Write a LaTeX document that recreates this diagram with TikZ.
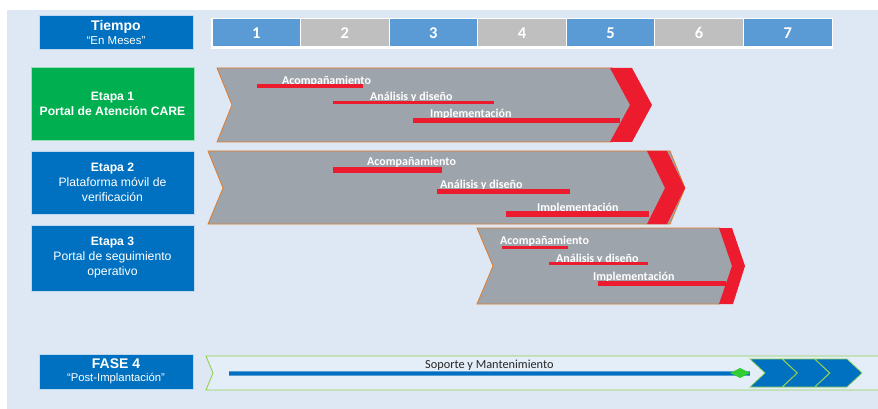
\documentclass[tikz,border=0pt]{standalone}
\usepackage{fontspec}
\setmainfont{Liberation Sans}
\newfontfamily\calib{Carlito}
\definecolor{bg}{HTML}{DEE8F4}
\definecolor{cblue}{HTML}{5B9BD5}
\definecolor{cgray}{HTML}{BFBFBF}
\definecolor{dblue}{HTML}{0070C0}
\definecolor{egreen}{HTML}{00B050}
\definecolor{chgray}{HTML}{9EA4AC}
\definecolor{chorange}{HTML}{E07B2A}
\definecolor{cred}{HTML}{EC1C2E}
\definecolor{lgreen}{HTML}{92D050}
\definecolor{dgreen}{HTML}{33CC33}
\definecolor{banfill}{HTML}{E4EEF8}
\definecolor{txtdark}{HTML}{262626}
\tikzset{
  box/.style={inner sep=0pt, text=white, align=center, draw=white!60!cblue, line width=0.6pt},
  cell/.style={inner sep=0pt, minimum width=88.57pt, minimum height=28pt, draw=white, line width=1pt, text=white, font=\calib\bfseries\fontsize{16.5}{18}\selectfont},
  chev/.style={fill=chgray, draw=chorange, line width=0.8pt},
  redband/.style={fill=cred},
  lbl/.style={anchor=base west, inner sep=0pt, text=white, font=\calib\bfseries\fontsize{12}{14}\selectfont},
  bar/.style={cred, line width=#1},
}
\begin{document}
\begin{tikzpicture}[x=1pt,y=-1pt]
\useasboundingbox (0,0) rectangle (878,409);
\fill[white] (0,0) rectangle (878,409);
\fill[bg] (7,10) rectangle (878,409);

% Tiempo box
\node[box, fill=dblue, minimum width=154pt, minimum height=34pt] (tiempo) at (116,32)
  {{\bfseries\fontsize{14}{14}\selectfont Tiempo}\\[2pt]{\fontsize{11.5}{13}\selectfont “En Meses”}};

% time cells
\fill[white] (211,18) rectangle (833,49.5);
\foreach \i/\c in {1/cblue,2/cgray,3/cblue,4/cgray,5/cblue,6/cgray,7/cblue}
  \node[cell, fill=\c] (t\i) at ({212+(\i-0.5)*88.57},33) {\i};

% stage boxes
\node[box, fill=egreen, draw=white!60!egreen, minimum width=163pt, minimum height=73pt, font=\bfseries\fontsize{12.2}{15}\selectfont] (e1) at (112.5,103.5)
  {Etapa 1\\Portal de Atención CARE};
\node[box, fill=dblue, minimum width=163pt, minimum height=63pt, font=\fontsize{12.2}{15}\selectfont] (e2) at (112.5,182.5)
  {\textbf{Etapa 2}\\Plataforma móvil de\\verificación};
\node[box, fill=dblue, minimum width=163pt, minimum height=66pt, font=\fontsize{12.2}{15}\selectfont] (e3) at (112.5,258)
  {\textbf{Etapa 3}\\Portal de seguimiento\\operativo};
\node[box, fill=dblue, minimum width=154pt, minimum height=35pt] (f4) at (116,371.5)
  {{\bfseries\fontsize{14}{14}\selectfont FASE 4}\\[1.5pt]{\fontsize{11.3}{13}\selectfont “Post-Implantación”}};

% chevron 1
\draw[chev] (217,68) -- (612,68) -- (632,105) -- (612,142) -- (217,142) -- (232,105) -- cycle;
\fill[redband] (610,68) -- (632,68) -- (652,105) -- (632,142) -- (610,142) -- (630,105) -- cycle;
\node[lbl] (c1a) at (282,84.5) {Acompañamiento};
\node[lbl] (c1b) at (370,100.5) {Análisis y diseño};
\node[lbl] (c1c) at (430,118) {Implementación};
\draw[bar=3.5pt] (257,86) -- (363,86);
\draw[bar=3.5pt] (333,102.7) -- (494,102.7);
\draw[bar=5pt] (413,121) -- (620,121);

% chevron 2
\draw[chev] (208,151) -- (670,151) -- (685,188) -- (670,224) -- (208,224) -- (223,188) -- cycle;
\fill[redband] (647,151) -- (667,151) -- (685,188) -- (667,224) -- (647,224) -- (665,188) -- cycle;
\node[lbl] (c2a) at (367,165) {Acompañamiento};
\node[lbl] (c2b) at (440,188) {Análisis y diseño};
\node[lbl] (c2c) at (537,211.5) {Implementación};
\draw[bar=5.5pt] (333,170) -- (442,170);
\draw[bar=5pt] (437,191.5) -- (570,191.5);
\draw[bar=5.5pt] (506,214) -- (649,214);

% chevron 3
\draw[chev] (477,228) -- (720,228) -- (740,266) -- (720,304) -- (477,304) -- (493,266) -- cycle;
\fill[redband] (719,228) -- (732,228) -- (745,266) -- (733,304) -- (719,304) -- (732,266) -- cycle;
\node[lbl] (c3a) at (500,244.5) {Acompañamiento};
\node[lbl] (c3b) at (556,262) {Análisis y diseño};
\node[lbl] (c3c) at (593,280) {Implementación};
\draw[bar=3pt] (502,247.5) -- (568,247.5);
\draw[bar=3pt] (549,263.5) -- (648,263.5);
\draw[bar=5pt] (598,283.5) -- (726,283.5);

% phase 4 banner
\filldraw[fill=banfill, draw=lgreen, line width=0.9pt] (882,356) -- (206,356) -- (213,373) -- (206,390) -- (882,390);
\node[anchor=base west, inner sep=0pt, text=txtdark, font=\calib\fontsize{12.3}{14}\selectfont] (sop) at (425,368) {Soporte y Mantenimiento};
\coordinate (ls) at (229,373);
\coordinate (le) at (750,373);
\draw[cblue, line width=5pt] (ls) -- (le);
\draw[dblue, line width=3pt] (ls) -- (le);
\fill[dgreen] (730,373) -- (740,368) -- (750,373) -- (740,378) -- cycle;
\foreach \k in {0,1,2}{
  \filldraw[fill=dblue, draw=lgreen, line width=0.7pt]
    ({750+32.5*\k},359) -- ({782+32.5*\k},359) -- ({797+32.5*\k},373) -- ({782+32.5*\k},387) -- ({750+32.5*\k},387) -- ({765+32.5*\k},373) -- cycle;
}
\end{tikzpicture}
\end{document}
